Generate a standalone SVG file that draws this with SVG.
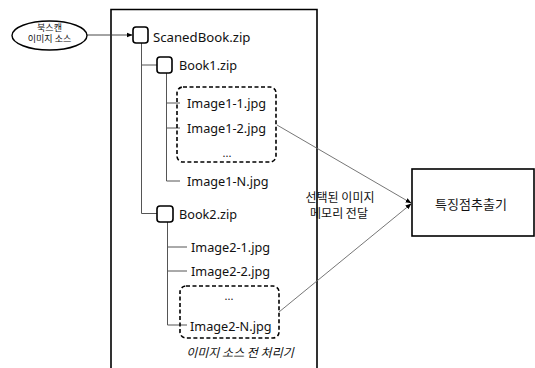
<svg xmlns="http://www.w3.org/2000/svg" width="535" height="368" viewBox="0 0 535 368">
  <style>
    .t { font-family: "Noto Sans", "Noto Sans CJK KR", sans-serif; fill: #111; }
    .f { font-size: 12.7px; }
    .k { font-family: "Noto Sans CJK KR", sans-serif; fill: #111; }
    .box { fill: #fff; stroke: #000; stroke-width: 1.6; }
    .dash { fill: none; stroke: #000; stroke-width: 1.6; stroke-dasharray: 4 2.5; }
    .tree { fill: none; stroke: #555; stroke-width: 1; }
    .link { fill: none; stroke: #666; stroke-width: 0.9; }
  </style>
  <defs>
    <marker id="arrow" viewBox="0 0 10 10" refX="9" refY="5" markerWidth="6" markerHeight="6" orient="auto" markerUnits="userSpaceOnUse">
      <path d="M0,1 L10,5 L0,9 z" fill="#000"/>
    </marker>
  </defs>

  <!-- pre-processor frame (open at the bottom) -->
  <g id="preprocessor">
    <path d="M111,368 V9.5 H317 V368" fill="none" stroke="#000" stroke-width="1.6"/>
    <text x="240" y="357" text-anchor="middle" class="k" font-size="12" font-style="italic" fill="#333">이미지 소스 전 처리기</text>
  </g>

  <!-- tree connectors and data links -->
  <g id="connectors">
    <path class="tree" d="M141.5,43 V213.5 H157"/>
    <path class="tree" d="M141.5,65 H157"/>
    <path class="tree" d="M166.5,73 V181 H180"/>
    <path class="tree" d="M166.5,103 H180"/>
    <path class="tree" d="M166.5,128 H180"/>
    <path class="tree" d="M167.5,222 V325 H187"/>
    <path class="tree" d="M167.5,247 H187"/>
    <path class="tree" d="M167.5,271 H187"/>
    <path d="M87,35 H132" fill="none" stroke="#333" stroke-width="0.9" marker-end="url(#arrow)"/>
    <path class="link" d="M277,125 L411,203" marker-end="url(#arrow)"/>
    <path class="link" d="M279,312 L411,204" marker-end="url(#arrow)"/>
  </g>

  <g id="source">
    <ellipse cx="49.5" cy="35.5" rx="37.5" ry="14.5" fill="#fff" stroke="#000" stroke-width="1.4"/>
    <text x="49.5" y="30.5" text-anchor="middle" class="k" font-size="9">북스캔</text>
    <text x="49.5" y="42" text-anchor="middle" class="k" font-size="9">이미지 소스</text>
  </g>

  <g id="scanedbook">
    <rect class="box" x="133" y="27" width="15" height="16" rx="3"/>
    <text x="153" y="42" class="t" font-size="13.2">ScanedBook.zip</text>
  </g>

  <g id="book1">
    <rect class="box" x="157" y="57" width="15" height="16" rx="3"/>
    <text x="179" y="70" class="t f">Book1.zip</text>
  </g>

  <g id="selection1">
    <rect class="dash" x="177" y="87" width="99" height="75" rx="6"/>
    <text x="187" y="108" class="t f">Image1-1.jpg</text>
    <text x="187" y="133" class="t f">Image1-2.jpg</text>
    <text x="227" y="157" class="t" font-size="11" text-anchor="middle">...</text>
  </g>

  <g id="image1n">
    <text x="187" y="186" class="t f">Image1-N.jpg</text>
  </g>

  <g id="book2">
    <rect class="box" x="157" y="206" width="16" height="16" rx="3"/>
    <text x="179" y="219" class="t f">Book2.zip</text>
  </g>

  <g id="image2-1">
    <text x="191" y="252" class="t f">Image2-1.jpg</text>
  </g>
  <g id="image2-2">
    <text x="191" y="276" class="t f">Image2-2.jpg</text>
  </g>

  <g id="selection2">
    <rect class="dash" x="180" y="286" width="99" height="52" rx="6"/>
    <text x="229" y="300" class="t" font-size="11" text-anchor="middle">...</text>
    <text x="190" y="331" class="t f">Image2-N.jpg</text>
  </g>

  <g id="transfer-label">
    <text x="340" y="201.5" text-anchor="middle" class="k" font-size="12">선택된 이미지</text>
    <text x="339" y="217.5" text-anchor="middle" class="k" font-size="12">메모리 전달</text>
  </g>

  <g id="extractor">
    <rect x="412" y="169" width="122" height="67" fill="#fff" stroke="#000" stroke-width="1.6"/>
    <text x="471" y="209" text-anchor="middle" class="k" font-size="13">특징점추출기</text>
  </g>
</svg>
